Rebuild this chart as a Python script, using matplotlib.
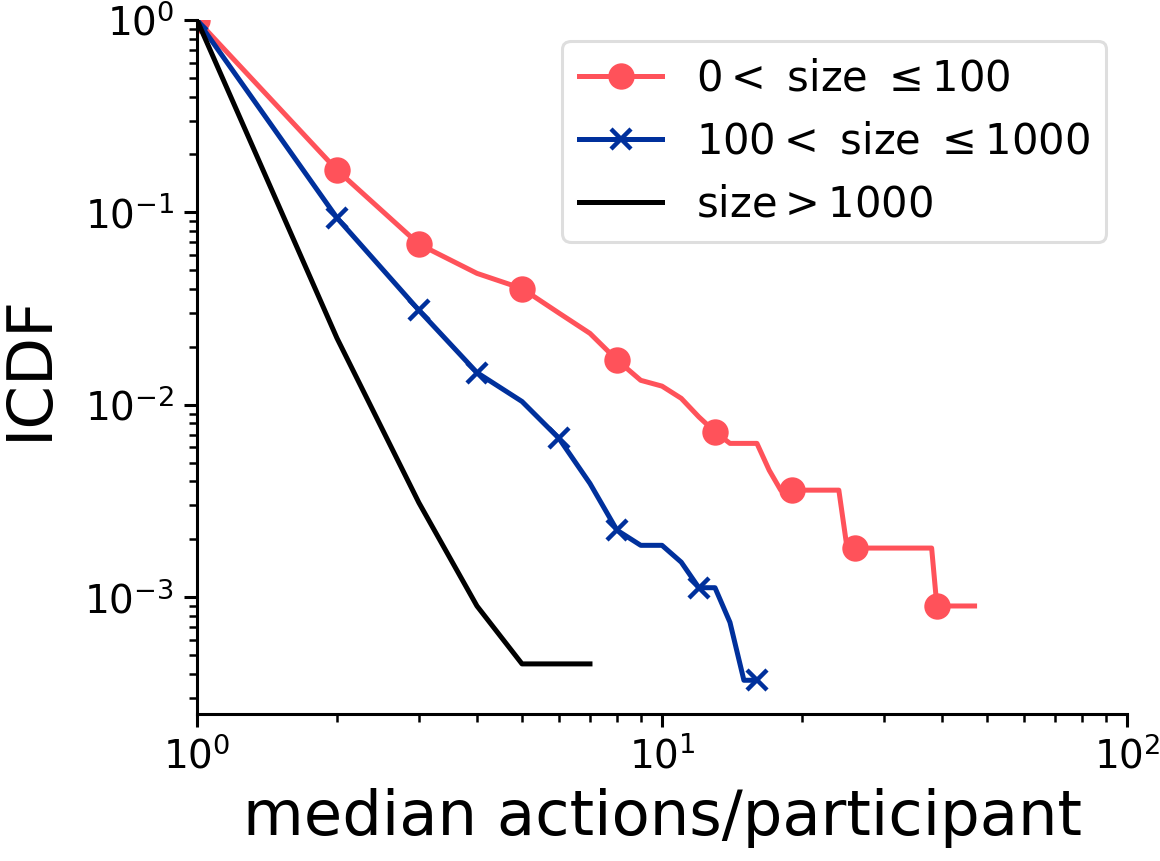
import numpy as np
import matplotlib
matplotlib.use("Agg")
import matplotlib.pyplot as plt

# ICDF of median actions per participant, split by group size
small_x = list(range(1, 48))
small_y = [1.0, 0.166, 0.0684, 0.0482, 0.0402, 0.030, 0.0235, 0.0171, 0.0134, 0.0125,
           0.0108, 0.00865, 0.00723, 0.0063, 0.0063, 0.0063, 0.00457, 0.0036, 0.0036, 0.0036,
           0.0036, 0.0036, 0.0036, 0.0036, 0.0018, 0.0018, 0.0018, 0.0018, 0.0018, 0.0018,
           0.0018, 0.0018, 0.0018, 0.0018, 0.0018, 0.0018, 0.0018, 0.0018, 0.0009, 0.0009,
           0.0009, 0.0009, 0.0009, 0.0009, 0.0009, 0.0009, 0.0009]
small_marks = [0, 1, 2, 4, 7, 12, 18, 25, 38]

mid_x = list(range(1, 17))
mid_y = [1.0, 0.0937, 0.031, 0.0147, 0.0104, 0.0067, 0.0039, 0.00223, 0.00186, 0.00186,
         0.00152, 0.00112, 0.00112, 0.00074, 0.00037, 0.00037]
mid_marks = [0, 1, 2, 3, 5, 7, 11, 15]

large_x = list(range(1, 8))
large_y = [1.0, 0.0222, 0.0031, 0.0009, 0.00045, 0.00045, 0.00045]

labels = [r"$0<$ size $\leq 100$", r"$100<$ size $\leq 1000$", r"size$>1000$"]

fig = plt.figure(figsize=(5.8, 4.305), dpi=200)
ax = fig.add_axes([0.1698, 0.1707, 0.9716 - 0.1698, 0.9768 - 0.1707])

ax.plot(small_x, small_y, color="#ff525a", lw=1.8, marker="o", ms=8.5,
        markevery=small_marks, label=labels[0])
ax.plot(mid_x, mid_y, color="#00309c", lw=1.8, marker="x", ms=7, mew=1.6,
        markevery=mid_marks, label=labels[1])
ax.plot(large_x, large_y, color="black", lw=1.8, label=labels[2])

ax.set_xscale("log")
ax.set_yscale("log")
ax.set_xlim(1, 100)
ax.set_ylim(2.47e-4, 1)

for s in ("top", "right"):
    ax.spines[s].set_visible(False)
for s in ("left", "bottom"):
    ax.spines[s].set_linewidth(1.1)

ax.tick_params(which="major", labelsize=14, length=4.7, width=1.1)
ax.tick_params(which="minor", length=3, width=0.9)

ax.set_xlabel("median actions/participant", fontsize=22.5)
ax.set_ylabel("ICDF", fontsize=22.5, labelpad=9)

leg = ax.legend(loc="upper right", fontsize=15, frameon=True)
leg.get_frame().set_edgecolor("#d6d6d6")
leg.get_frame().set_linewidth(1.1)

fig.savefig("out.png", dpi=200)
